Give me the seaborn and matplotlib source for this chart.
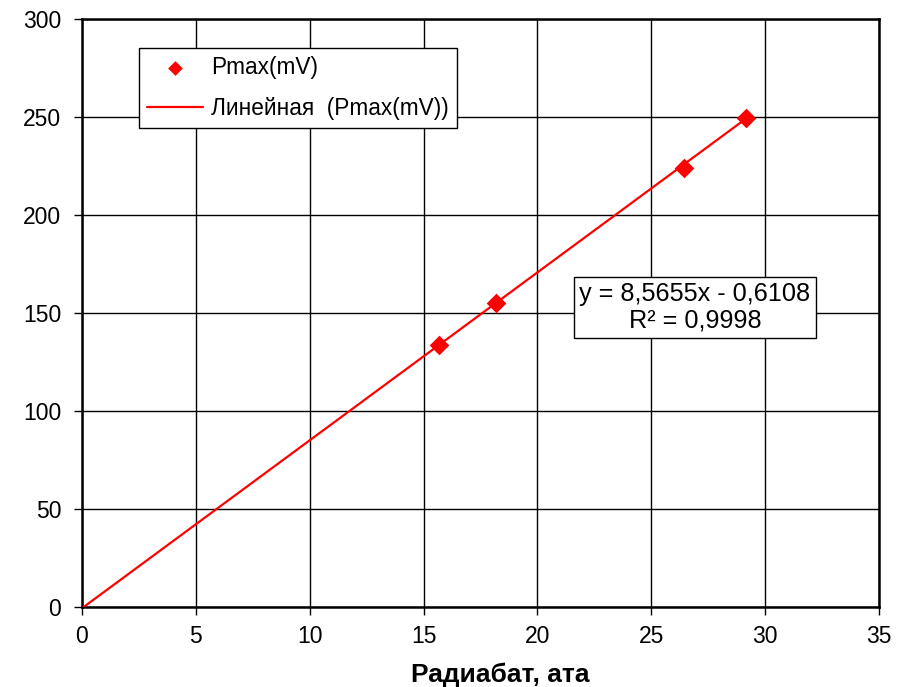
import numpy as np
import pandas as pd
import matplotlib
matplotlib.use("Agg")
import matplotlib.pyplot as plt
import seaborn as sns

# Measured points
radiabat = [15.68, 18.18, 26.44, 29.16]
pmax_mv = [133.7, 155.1, 224.0, 249.5]

# Linear trendline coefficients and fit quality
slope = 8.5655
intercept = -0.6108
r_squared = 0.9998
trend_x = [0.0, 29.16]

x_ticks = [0, 5, 10, 15, 20, 25, 30, 35]
y_ticks = [0, 50, 100, 150, 200, 250, 300]

sns.set_style("white")
plt.rcParams["font.family"] = ["Liberation Sans", "DejaVu Sans"]

fig = plt.figure(figsize=(9.08, 6.87), dpi=100)
ax = fig.add_axes([0.0903, 0.1164, 0.8777, 0.856])

points = pd.DataFrame({"x": radiabat, "y": pmax_mv})
trend = pd.DataFrame({"x": trend_x,
                      "y": [slope * v + intercept for v in trend_x]})

sns.lineplot(data=trend, x="x", y="y", ax=ax, color="#ff0000", lw=1.6,
             label="Линейная  (Pmax(mV))", zorder=3)
sns.scatterplot(data=points, x="x", y="y", ax=ax, marker="D", s=100,
                color="#ff0000", edgecolor="#ff0000", linewidth=0,
                label="Pmax(mV)", zorder=4)

ax.set_xlim(0, 35)
ax.set_ylim(0, 300)
ax.set_xticks(x_ticks)
ax.set_yticks(y_ticks)
ax.grid(True, color="black", lw=1.0)
ax.set_axisbelow(True)
for side in ["left", "bottom", "top", "right"]:
    ax.spines[side].set_color("black")
    ax.spines[side].set_linewidth(1.8)
ax.tick_params(axis="both", which="both", direction="out", length=6,
               width=1.0, color="black", labelcolor="black", labelsize=16.5,
               bottom=True, left=True)
ax.tick_params(axis="y", pad=9)
ax.tick_params(axis="x", pad=7)
ax.set_xlabel("Радиабат, ата", fontsize=19, fontweight="bold",
              color="black")
ax.xaxis.set_label_coords(0.5245, -0.095)
ax.set_ylabel("")

handles, labels = ax.get_legend_handles_labels()
order = [1, 0]
leg = ax.legend([handles[i] for i in order], [labels[i] for i in order],
                loc="upper left", bbox_to_anchor=(0.0715, 0.951),
                fontsize=16.3, frameon=True, fancybox=False, framealpha=1,
                edgecolor="black", borderpad=0.35, labelspacing=0.8,
                handlelength=2.5, handletextpad=0.35, markerscale=0.75,
                borderaxespad=0)
leg.get_frame().set_linewidth(1.0)
for t in leg.get_texts():
    t.set_color("black")

ax.text(0.769, 0.510,
        f"y = {slope:.4f}x - {abs(intercept):.4f}\nR² = {r_squared:.4f}".replace(".", ","),
        transform=ax.transAxes, ha="center", va="center", fontsize=18.2,
        linespacing=1.1, color="black",
        bbox=dict(boxstyle="square,pad=0.22", facecolor="white",
                  edgecolor="black", linewidth=1.0), zorder=5)

fig.savefig("out.png", dpi=100)
